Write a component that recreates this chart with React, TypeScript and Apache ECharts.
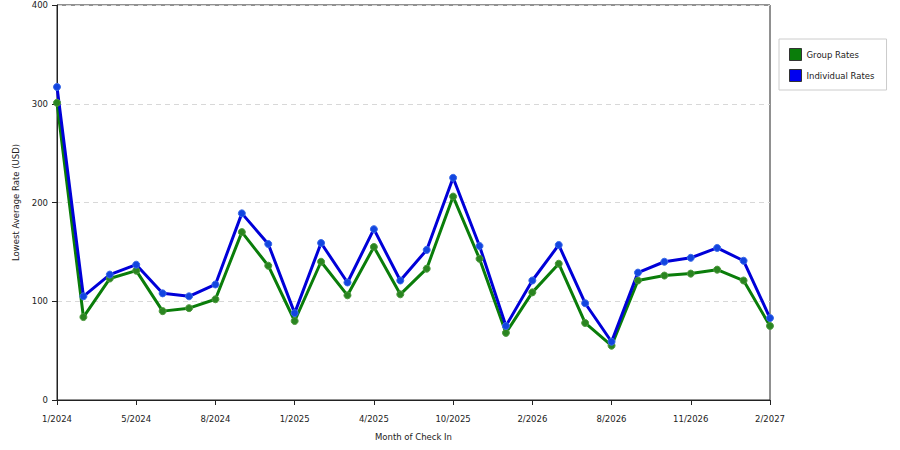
import { useEffect, useRef } from "react";
import * as echarts from "echarts";

const months = [
  "1/2024", "2/2024", "3/2024", "5/2024", "6/2024", "7/2024", "8/2024",
  "10/2024", "11/2024", "1/2025", "2/2025", "3/2025", "4/2025", "6/2025",
  "8/2025", "10/2025", "11/2025", "12/2025", "2/2026", "4/2026", "6/2026",
  "8/2026", "9/2026", "10/2026", "11/2026", "12/2026", "1/2027", "2/2027",
];

const groupRates = [
  301, 84, 123, 131, 90, 93, 102, 170, 136, 80, 140, 106, 155, 107,
  133, 206, 143, 68, 109, 138, 78, 55, 121, 126, 128, 132, 121, 75,
];

const individualRates = [
  317, 105, 127, 137, 108, 105, 117, 189, 158, 88, 159, 119, 173, 121,
  152, 225, 156, 75, 121, 157, 98, 59, 129, 140, 144, 154, 141, 83,
];

const FONT = "DejaVu Sans";
const TEXT = "#222";

export default function App() {
  const chartRef = useRef<HTMLDivElement>(null);

  useEffect(() => {
    if (!chartRef.current) return;
    const chart = echarts.init(chartRef.current, undefined, { renderer: "svg" });

    chart.setOption({
      animation: false,
      backgroundColor: "#fff",
      textStyle: { fontFamily: FONT, color: TEXT },
      grid: {
        left: 57,
        right: 130,
        top: 5,
        bottom: 50,
        show: true,
        borderColor: "#222",
        borderWidth: 1,
      },
      legend: {
        orient: "vertical",
        left: 779,
        top: 39,
        padding: [9, 12, 8, 10],
        itemWidth: 12,
        itemHeight: 12,
        itemGap: 8,
        itemTextGap: 9,
        borderColor: "#ccc",
        borderWidth: 1,
        backgroundColor: "#fff",
        textStyle: { fontFamily: FONT, fontSize: 8.5, color: TEXT },
        data: [
          {
            name: "Group Rates",
            icon: "rect",
            itemStyle: { color: "#0a7d0a", borderColor: "#333", borderWidth: 1 },
          },
          {
            name: "Individual Rates",
            icon: "rect",
            itemStyle: { color: "#0000f0", borderColor: "#333", borderWidth: 1 },
          },
        ],
      },
      xAxis: {
        type: "category",
        data: months,
        boundaryGap: false,
        name: "Month of Check In",
        nameLocation: "middle",
        nameGap: 32,
        nameTextStyle: { fontFamily: FONT, fontSize: 8.5, color: TEXT },
        axisLine: { lineStyle: { color: "#222" } },
        axisTick: { interval: 2, length: 5, lineStyle: { color: "#222" } },
        axisLabel: {
          interval: 2,
          margin: 14,
          fontFamily: FONT,
          fontSize: 8.5,
          color: TEXT,
        },
        splitLine: { show: false },
      },
      yAxis: {
        type: "value",
        min: 0,
        max: 400,
        interval: 100,
        name: "Lowest Average Rate (USD)",
        nameLocation: "middle",
        nameGap: 35,
        nameTextStyle: { fontFamily: FONT, fontSize: 8.5, color: TEXT },
        axisLine: { show: true, lineStyle: { color: "#222" } },
        axisTick: { show: true, length: 5, lineStyle: { color: "#222" } },
        axisLabel: { margin: 9, fontFamily: FONT, fontSize: 8.5, color: TEXT },
        splitLine: {
          show: true,
          lineStyle: { color: "#d8d8d8", type: [5, 4], width: 1 },
        },
      },
      series: [
        {
          name: "Group Rates",
          type: "line",
          data: groupRates,
          symbol: "circle",
          symbolSize: 7,
          lineStyle: { color: "#0a7d0a", width: 3 },
          itemStyle: { color: "#2a8520", borderColor: "#4f9a40", borderWidth: 1 },
        },
        {
          name: "Individual Rates",
          type: "line",
          data: individualRates,
          symbol: "circle",
          symbolSize: 7,
          lineStyle: { color: "#0000d8", width: 3 },
          itemStyle: { color: "#1245e0", borderColor: "#3a6ae8", borderWidth: 1 },
        },
      ],
    });

    return () => {
      chart.dispose();
    };
  }, []);

  return (
    <div
      ref={chartRef}
      style={{ position: "absolute", left: 0, top: 0, width: 900, height: 450 }}
    />
  );
}
